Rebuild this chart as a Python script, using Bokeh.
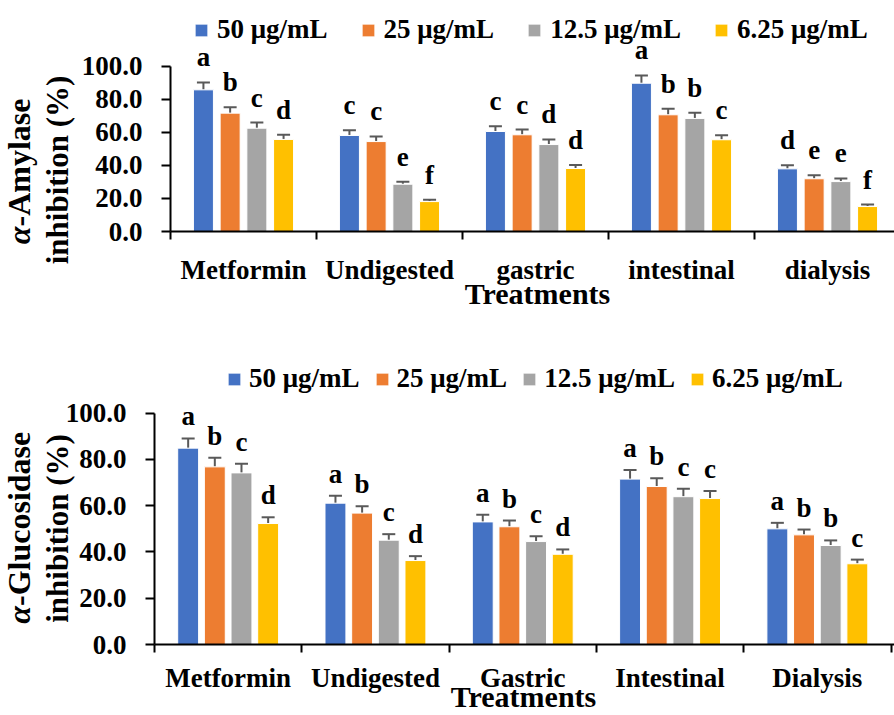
import math
from bokeh.plotting import figure
from bokeh.models import (ColumnDataSource, FixedTicker, PrintfTickFormatter, Legend,
                          LegendItem, Whisker, TeeHead, Range1d)
from bokeh.layouts import column
from bokeh.embed import file_html
from bokeh.resources import INLINE
from bokeh.core.properties import value

# ---------------- data ----------------
series = ["50 μg/mL", "25 μg/mL", "12.5 μg/mL", "6.25 μg/mL"]
colors = ["#4472C4", "#ED7D31", "#A5A5A5", "#FFC000"]

amy_cats = ["Metformin", "Undigested", "gastric", "intestinal", "dialysis"]
amy_50 = [85.7, 58.1, 60.5, 89.7, 37.9]
amy_25 = [71.6, 54.4, 58.5, 70.6, 31.9]
amy_12 = [62.5, 28.6, 52.6, 68.4, 30.2]
amy_6 = [55.7, 18.1, 38.1, 55.5, 15.1]
amy_err_50 = [4.5, 3.2, 3.2, 4.7, 2.2]
amy_err_25 = [3.6, 3.1, 3.2, 3.6, 2.2]
amy_err_12 = [3.4, 1.5, 3.1, 3.4, 1.9]
amy_err_6 = [2.8, 1.1, 2.2, 2.8, 1.2]
amy_let_50 = ["a", "c", "c", "a", "d"]
amy_let_25 = ["b", "c", "c", "b", "e"]
amy_let_12 = ["c", "e", "d", "b", "e"]
amy_let_6 = ["d", "f", "d", "c", "f"]

glu_cats = ["Metformin", "Undigested", "Gastric", "Intestinal", "Dialysis"]
glu_50 = [84.9, 61.1, 53.0, 71.5, 50.0]
glu_25 = [76.8, 56.8, 50.9, 68.3, 47.4]
glu_12 = [74.2, 45.1, 44.5, 63.9, 42.8]
glu_6 = [52.3, 36.3, 39.0, 63.1, 34.9]
glu_err_50 = [4.2, 3.2, 3.1, 3.9, 2.6]
glu_err_25 = [3.9, 3.0, 2.7, 3.6, 2.3]
glu_err_12 = [3.9, 2.6, 2.3, 3.4, 2.2]
glu_err_6 = [2.7, 1.9, 2.1, 3.3, 1.8]
glu_let_50 = ["a", "a", "a", "a", "a"]
glu_let_25 = ["b", "b", "b", "b", "b"]
glu_let_12 = ["c", "c", "c", "c", "b"]
glu_let_6 = ["d", "d", "d", "c", "c"]

y_ticks = [0, 20, 40, 60, 80, 100]
x_title = "Treatments"

FONT = "Liberation Serif"


def make_chart(cats, vals, errs, lets, ytitle_greek, ytitle_rest, ytitle2,
               width, height, axis_x_px, axis_y_px, cat_px, unit_px, offsets, bar_w,
               letter_gap, legend_loc, legend_spacing, legend_standoff,
               xlab_standoff, ytl, treat_pos):
    # frame covers the whole canvas; axes are pinned at the data origin
    x0 = -axis_x_px / cat_px
    x1 = (width - axis_x_px) / cat_px
    y0 = -(height - axis_y_px) / unit_px
    y1 = axis_y_px / unit_px
    p = figure(width=width, height=height, output_backend="svg", toolbar_location=None,
               x_range=Range1d(x0, x1), y_range=Range1d(y0, y1),
               min_border_left=0, min_border_right=0, min_border_top=0,
               min_border_bottom=0)
    p.outline_line_color = None
    p.xgrid.visible = False
    p.ygrid.visible = False
    p.background_fill_color = "white"
    p.border_fill_color = "white"

    centers = [i + 0.5 for i in range(len(cats))]
    items = []
    for k in range(4):
        xs = [c + offsets[k] for c in centers]
        src = ColumnDataSource(dict(
            x=xs, top=vals[k],
            upper=[v + e for v, e in zip(vals[k], errs[k])],
            lower=vals[k], letter=lets[k]))
        r = p.vbar(x="x", top="top", bottom=0, width=bar_w, source=src,
                   fill_color=colors[k], line_color="white", line_width=1)
        items.append(LegendItem(label=series[k], renderers=[r]))
        w = Whisker(base="x", upper="upper", lower="lower", source=src,
                    dimension="height", line_color="#595959", line_width=2,
                    lower_head=None,
                    upper_head=TeeHead(size=13, line_color="#595959", line_width=2))
        p.add_layout(w)
        p.text(x="x", y="upper", text="letter", source=src,
               text_font=value(FONT), text_font_style="bold", text_font_size="27px",
               text_align="center", text_baseline="alphabetic", y_offset=-letter_gap,
               text_color="black")

    # y axis
    ya = p.yaxis[0]
    ya.fixed_location = 0
    ya.ticker = FixedTicker(ticks=y_ticks, minor_ticks=[])
    ya.formatter = PrintfTickFormatter(format="%.1f")
    ya.bounds = (0, 100)
    ya.axis_line_width = 2
    ya.axis_line_color = "black"
    ya.major_tick_line_width = 2
    ya.major_tick_line_color = "black"
    ya.major_tick_out = 9
    ya.major_tick_in = 0
    ya.minor_tick_line_color = None
    ya.major_label_standoff = 19
    ya.major_label_text_font = FONT
    ya.major_label_text_font_style = "bold"
    ya.major_label_text_font_size = "27px"
    ya.major_label_text_color = "black"

    # x axis: labels at category centers, tick marks at category boundaries
    xa = p.xaxis[0]
    xa.fixed_location = 0
    xa.ticker = FixedTicker(ticks=centers, minor_ticks=list(range(len(cats) + 1)))
    xa.major_label_overrides = {c: n for c, n in zip(centers, cats)}
    xa.bounds = (0, x1)
    xa.axis_line_width = 2
    xa.axis_line_color = "black"
    xa.major_tick_line_color = None
    xa.major_tick_out = 0
    xa.major_tick_in = 0
    xa.minor_tick_line_color = "black"
    xa.minor_tick_line_width = 2
    xa.minor_tick_out = 8
    xa.minor_tick_in = 0
    xa.major_label_standoff = xlab_standoff
    xa.major_label_text_font = FONT
    xa.major_label_text_font_style = "bold"
    xa.major_label_text_font_size = "27px"
    xa.major_label_text_color = "black"

    legend = Legend(items=items, location=legend_loc, orientation="horizontal",
                    spacing=legend_spacing, label_standoff=legend_standoff,
                    glyph_width=16, glyph_height=16, padding=0, margin=0,
                    border_line_color=None, background_fill_alpha=0,
                    label_text_font=FONT, label_text_font_style="bold",
                    label_text_font_size="27px", label_text_color="black")
    p.add_layout(legend)

    # y-axis title (two rotated lines), anchored at the axis origin with pixel offsets
    (xo1, xo2, yj, y2c) = ytl
    common = dict(angle=math.pi / 2, text_baseline="alphabetic", text_font=value(FONT),
                  text_color="black")
    p.text(x=[0], y=[0], text=[ytitle_greek], x_offset=xo1, y_offset=yj,
           text_align="right", text_font_style="bold italic", text_font_size="32px",
           **common)
    p.text(x=[0], y=[0], text=[ytitle_rest], x_offset=xo1, y_offset=yj,
           text_align="left", text_font_style="bold", text_font_size="32px", **common)
    p.text(x=[0], y=[0], text=[ytitle2], x_offset=xo2, y_offset=y2c,
           text_align="center", text_font_style="bold", text_font_size="31px", **common)
    # x-axis title
    p.text(x=[0], y=[0], text=[x_title], x_offset=treat_pos[0], y_offset=treat_pos[1],
           text_align="center", text_baseline="alphabetic", text_font=value(FONT),
           text_font_style="bold", text_font_size="30px", text_color="black")
    return p


p1 = make_chart(amy_cats, [amy_50, amy_25, amy_12, amy_6],
                [amy_err_50, amy_err_25, amy_err_12, amy_err_6],
                [amy_let_50, amy_let_25, amy_let_12, amy_let_6],
                "α", "-Amylase", "inhibition (%)",
                width=894, height=340, axis_x_px=170, axis_y_px=231,
                cat_px=146.0, unit_px=1.653,
                offsets=[-0.2745, -0.0915, 0.0915, 0.2745], bar_w=0.137,
                letter_gap=25, legend_loc=(193, 295), legend_spacing=32, legend_standoff=8,
                xlab_standoff=15, ytl=(-151.5, -113.4, -5, -61.5), treat_pos=(367, 62))

p2 = make_chart(glu_cats, [glu_50, glu_25, glu_12, glu_6],
                [glu_err_50, glu_err_25, glu_err_12, glu_err_6],
                [glu_let_50, glu_let_25, glu_let_12, glu_let_6],
                "α", "-Glucosidase", "inhibition (%)",
                width=894, height=375, axis_x_px=154, axis_y_px=304,
                cat_px=147.3, unit_px=2.313,
                offsets=[-0.2715, -0.0905, 0.0905, 0.2715], bar_w=0.142,
                letter_gap=22, legend_loc=(226, 321), legend_spacing=14, legend_standoff=7,
                xlab_standoff=10, ytl=(-135.5, -97.4, -38.5, -116), treat_pos=(369, 52))

layout = column(p1, p2, spacing=0)
open("out.html", "w").write(file_html(layout, INLINE))
